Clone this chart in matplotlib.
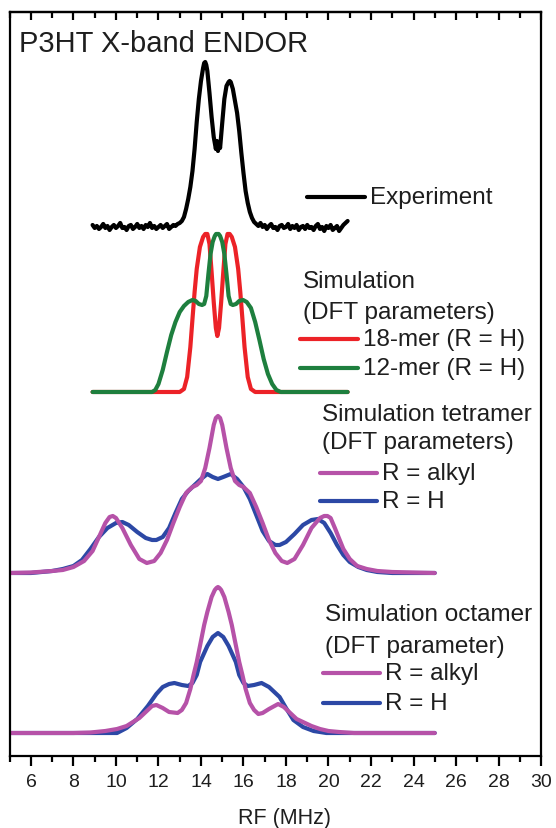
"""ENDOR spectra of P3HT: experiment vs DFT-parameter simulations, stacked with offsets."""

import matplotlib

matplotlib.use("Agg")
import matplotlib.pyplot as plt
from matplotlib.ticker import MultipleLocator

plt.rcParams["font.family"] = ["Liberation Sans", "DejaVu Sans"]

# --- data (RF in MHz, intensity in arbitrary units above each trace baseline) ---

exp_mhz = [
    8.9, 9.0, 9.1, 9.2, 9.3, 9.4, 9.5, 9.6, 9.7, 9.8, 9.9, 10.0, 10.1, 10.2, 10.3, 10.4,
    10.5, 10.6, 10.7, 10.8, 10.9, 11.0, 11.1, 11.2, 11.3, 11.4, 11.5, 11.6, 11.7, 11.8,
    11.9, 12.0, 12.1, 12.2, 12.3, 12.4, 12.5, 12.6, 12.7, 12.8, 12.9, 13.0,
    13.1, 13.2, 13.3, 13.4, 13.5, 13.6, 13.7, 13.8, 13.9, 14.0, 14.1, 14.15, 14.2, 14.25,
    14.3, 14.4, 14.5, 14.6, 14.65, 14.7, 14.75, 14.8, 14.85, 14.9, 15.0, 15.1, 15.2, 15.3,
    15.35, 15.4, 15.5, 15.6, 15.7, 15.8, 15.9, 16.0, 16.1, 16.2, 16.3, 16.4, 16.5,
    16.6, 16.7, 16.8, 16.9, 17.0, 17.1, 17.2, 17.3, 17.4, 17.5, 17.6, 17.7, 17.8, 17.9,
    18.0, 18.1, 18.2, 18.3, 18.4, 18.5, 18.6, 18.7, 18.8, 18.9, 19.0, 19.1, 19.2, 19.3,
    19.4, 19.5, 19.6, 19.7, 19.8, 19.9, 20.0, 20.1, 20.2, 20.3, 20.4, 20.5, 20.6, 20.7,
    20.8, 20.9,
]
exp_signal = [
    2, -1, 1, -2, 0, 3, -1, 1, -3, 0, 2, -1, 1, 4, -1, 0,
    -3, 1, 2, -2, 0, 3, -1, 1, -2, 2, 0, 4, -1, 1,
    -2, 0, 2, -1, 1, 3, -2, 0, 2, 1, 3, 4,
    6, 10, 18, 28, 40, 56, 78, 105, 128, 146, 159, 164, 165, 162,
    156, 134, 110, 90, 84, 78, 86, 76, 84, 79, 104, 128, 141, 145,
    146, 145, 138, 126, 114, 96, 74, 54, 36, 24, 15, 9, 5,
    3, 1, 4, 0, 2, -2, 1, 3, -1, 0, -3, 1, 2, -1,
    0, 3, -2, 1, -1, 2, -3, 0, 1, -2, 2, -1, 0, -3,
    1, 3, -2, 0, -4, 1, -1, 2, -3, -1, 1, -4, -1, 2,
    4, 6,
]

mer18_mhz = [
    8.9, 13.0, 13.2, 13.35, 13.5, 13.6, 13.7, 13.8, 13.95, 14.1, 14.2, 14.3, 14.4, 14.5,
    14.6, 14.7, 14.77, 14.85, 14.95, 15.05, 15.15, 15.25, 15.35, 15.45, 15.6, 15.75,
    15.85, 15.95, 16.05, 16.2, 16.35, 16.55, 20.9,
]
mer18_signal = [
    0, 0, 3, 15, 45, 73, 100, 123, 145, 155, 158, 158, 148, 120,
    90, 64, 56, 64, 90, 120, 148, 158, 158, 155, 145, 123,
    100, 73, 45, 15, 3, 0, 0,
]

mer12_mhz = [
    8.9, 11.7, 11.85, 12.0, 12.2, 12.4, 12.6, 12.8, 13.0, 13.2, 13.4, 13.6, 13.75, 13.9,
    14.05, 14.15, 14.25, 14.35, 14.45, 14.55, 14.65, 14.71, 14.77, 14.83, 14.9, 15.0,
    15.1, 15.2, 15.3, 15.4, 15.5, 15.65, 15.8, 15.98, 16.15, 16.35, 16.55, 16.75, 16.95,
    17.15, 17.35, 17.55, 17.75, 20.9,
]
mer12_signal = [
    0, 0, 2, 8, 22, 40, 57, 70, 80, 86, 90, 92, 91, 88,
    87, 88, 96, 118, 138, 150, 156, 158, 158, 158, 156, 150,
    138, 118, 96, 88, 87, 88, 91, 92, 90, 84, 70, 52, 33,
    18, 8, 2, 0, 0,
]

tetra_alkyl_mhz = [
    5.0, 6.0, 7.0, 7.5, 8.0, 8.5, 8.9, 9.2, 9.5, 9.7, 9.85, 10.0, 10.3, 10.7, 11.1, 11.45,
    11.8, 12.1, 12.4, 12.7, 13.0, 13.3, 13.6, 13.8, 14.0, 14.2, 14.4, 14.6, 14.7, 14.8,
    14.9, 15.0, 15.2, 15.4, 15.6, 15.8, 16.0, 16.3, 16.6, 16.9, 17.2, 17.5, 17.8, 18.06,
    18.4, 18.8, 19.2, 19.6, 19.8, 19.95, 20.1, 20.3, 20.7, 21.0, 21.35, 21.8, 22.3, 23.0,
    25.0,
]
tetra_alkyl_signal = [
    0, 0.5, 2, 3, 6, 12, 22, 36, 50, 56, 57, 55, 45, 28, 14, 10,
    12, 20, 33, 50, 66, 80, 86, 88, 92, 105, 125, 148, 155, 157,
    155, 148, 125, 105, 92, 88, 86, 80, 66, 50, 33, 20, 12, 10,
    14, 28, 45, 55, 57, 57, 55, 45, 24, 14, 7, 4, 2, 1,
    0,
]

tetra_h_mhz = [
    5.0, 6.0, 6.5, 7.0, 7.5, 8.0, 8.4, 8.8, 9.2, 9.6, 10.0, 10.3, 10.6, 11.0, 11.4, 11.7,
    11.9, 12.2, 12.5, 12.8, 13.1, 13.4, 13.7, 14.0, 14.3, 14.55, 14.8, 15.05, 15.4, 15.7,
    16.0, 16.3, 16.6, 16.9, 17.2, 17.5, 17.7, 18.0, 18.4, 18.8, 19.2, 19.5, 19.8, 20.1,
    20.4, 20.7, 21.0, 21.4, 21.8, 22.3, 23.0, 25.0,
]
tetra_h_signal = [
    0, 0, 1, 2, 4, 7, 13, 24, 36, 45, 50, 51, 48, 41, 35, 33,
    33, 36, 45, 60, 74, 82, 88, 94, 99, 96, 94, 96, 99, 94,
    86, 74, 58, 42, 32, 28, 28, 31, 39, 48, 53, 54, 50, 40,
    28, 18, 11, 6, 3, 1, 0, 0,
]

octa_alkyl_mhz = [
    5.0, 8.0, 8.8, 9.5, 10.05, 10.5, 10.8, 11.1, 11.45, 11.7, 11.9, 12.2, 12.5, 12.9,
    13.1, 13.3, 13.5, 13.65, 13.8, 14.0, 14.15, 14.3, 14.5, 14.65, 14.73, 14.8, 14.87,
    14.95, 15.1, 15.3, 15.45, 15.6, 15.8, 15.95, 16.1, 16.3, 16.5, 16.7, 16.9, 17.2,
    17.63, 17.9, 18.2, 18.5, 18.8, 19.2, 19.6, 20.0, 20.5, 21.2, 25.0,
]
octa_alkyl_signal = [
    0, 0, 0.5, 2, 4, 7, 11, 15, 22, 27, 28, 25, 21, 20,
    23, 30, 44, 58, 71, 92, 108, 121, 136, 143, 145, 146, 145,
    143, 136, 121, 108, 92, 71, 58, 44, 30, 23, 19, 20, 24,
    29, 26, 20, 14, 11, 7, 4, 2, 1, 0, 0,
]

octa_h_mhz = [
    5.0, 10.05, 10.5, 11.0, 11.5, 11.9, 12.2, 12.5, 12.75, 13.1, 13.4, 13.6, 13.8, 13.96,
    14.3, 14.55, 14.8, 15.05, 15.3, 15.64, 15.8, 16.0, 16.2, 16.5, 16.85, 17.2, 17.5,
    17.7, 18.0, 18.35, 18.8, 19.3, 19.9, 25.0,
]
octa_h_signal = [
    0, 0, 5, 14, 27, 39, 46, 49, 50, 48, 47, 50, 58, 71,
    87, 96, 100, 96, 87, 71, 58, 50, 47, 48, 50, 46, 40,
    36, 25, 13, 6, 2, 0, 0,
]

# vertical offsets of the stacked traces
trace_offsets = {"experiment": 529, "chain": 364, "tetramer": 183, "octamer": 23}

major_ticks = [6, 8, 10, 12, 14, 16, 18, 20, 22, 24, 26, 28, 30]

# --- style ---
RED = "#ec2227"
GREEN = "#1e7f3e"
MAGENTA = "#b652a8"
BLUE = "#2c48a5"
TEXT = "#1e1e1e"
LW = 3.0
FS_LEG = 17.5


def shifted(values, offset):
    return [v + offset for v in values]


def legend_entry(ax, x0, x1, y, color, label):
    ax.plot([x0, x1], [y, y], color=color, lw=LW, solid_capstyle="round")
    ax.text(x1 + 0.22, y, label, fontsize=FS_LEG, color=TEXT, va="center", ha="left")


def main():
    fig = plt.figure(figsize=(5.56, 8.29), dpi=100)
    ax = fig.add_axes([0.01745, 0.08685, 0.9556, 0.8975])

    off = trace_offsets
    kw = dict(lw=LW, solid_joinstyle="round", solid_capstyle="round")

    ax.plot(exp_mhz, shifted(exp_signal, off["experiment"]), color="black", **kw)
    ax.plot(mer18_mhz, shifted(mer18_signal, off["chain"]), color=RED, **kw)
    ax.plot(mer12_mhz, shifted(mer12_signal, off["chain"]), color=GREEN, **kw)
    ax.plot(tetra_h_mhz, shifted(tetra_h_signal, off["tetramer"]), color=BLUE, **kw)
    ax.plot(tetra_alkyl_mhz, shifted(tetra_alkyl_signal, off["tetramer"]), color=MAGENTA, **kw)
    ax.plot(octa_h_mhz, shifted(octa_h_signal, off["octamer"]), color=BLUE, **kw)
    ax.plot(octa_alkyl_mhz, shifted(octa_alkyl_signal, off["octamer"]), color=MAGENTA, **kw)

    # annotations / hand-made legends
    ax.text(5.46, 713, "P3HT X-band ENDOR", fontsize=21, color=TEXT, va="center", ha="left")

    legend_entry(ax, 19.0, 21.72, 559, "black", "Experiment")

    ax.text(18.8, 475, "Simulation", fontsize=FS_LEG, color=TEXT, va="center")
    ax.text(18.8, 444, "(DFT parameters)", fontsize=FS_LEG, color=TEXT, va="center")
    legend_entry(ax, 18.66, 21.4, 417, RED, "18-mer (R = H)")
    legend_entry(ax, 18.66, 21.4, 388, GREEN, "12-mer (R = H)")

    ax.text(19.7, 342, "Simulation tetramer", fontsize=FS_LEG, color=TEXT, va="center")
    ax.text(19.7, 314, "(DFT parameters)", fontsize=FS_LEG, color=TEXT, va="center")
    legend_entry(ax, 19.6, 22.3, 283, MAGENTA, "R = alkyl")
    legend_entry(ax, 19.6, 22.3, 255, BLUE, "R = H")

    ax.text(19.85, 142, "Simulation octamer", fontsize=FS_LEG, color=TEXT, va="center")
    ax.text(19.85, 110, "(DFT parameter)", fontsize=FS_LEG, color=TEXT, va="center")
    legend_entry(ax, 19.75, 22.43, 83, MAGENTA, "R = alkyl")
    legend_entry(ax, 19.75, 22.43, 53, BLUE, "R = H")

    # axes
    ax.set_xlim(5, 30)
    ax.set_ylim(0, 744)
    ax.set_xticks(major_ticks)
    ax.xaxis.set_minor_locator(MultipleLocator(1))
    ax.set_yticks([])
    for sp in ax.spines.values():
        sp.set_linewidth(1.6)
    ax.tick_params(axis="x", which="both", bottom=True, top=False, direction="out",
                   width=1.6, labelsize=14, labelcolor=TEXT, pad=5)
    ax.tick_params(axis="x", which="major", length=7)
    ax.tick_params(axis="x", which="minor", length=4)

    top = ax.secondary_xaxis("top")
    top.set_xticks(major_ticks)
    top.xaxis.set_minor_locator(MultipleLocator(1))
    top.tick_params(axis="x", which="both", direction="in", width=1.6, labeltop=False)
    top.tick_params(axis="x", which="major", length=6)
    top.tick_params(axis="x", which="minor", length=4)
    top.spines["top"].set_linewidth(1.6)

    ax.set_xlabel("RF (MHz)", fontsize=15.5, color=TEXT)
    ax.xaxis.set_label_coords(0.517, -0.068)

    fig.savefig("out.png", dpi=100)
    plt.close(fig)


if __name__ == "__main__":
    main()
